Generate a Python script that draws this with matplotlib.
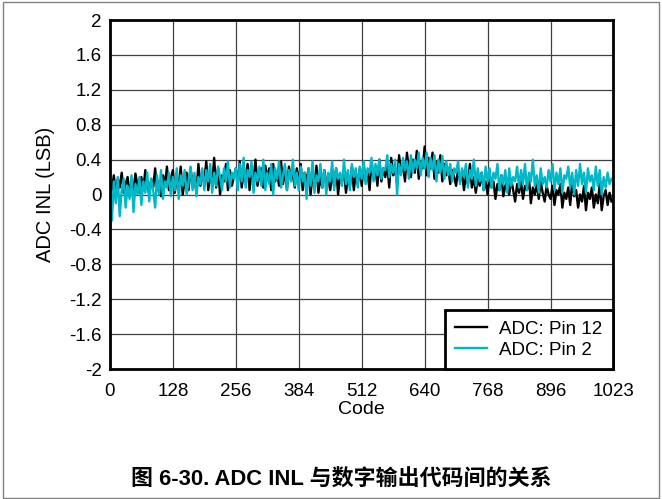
import numpy as np
import matplotlib
matplotlib.use("Agg")
import matplotlib.pyplot as plt
from matplotlib.patches import Rectangle

plt.rcParams['font.family'] = ['Liberation Sans', 'Noto Sans CJK SC']

# INL, one point every 4 codes
pin12 = [0.15, 0.05, 0.22, 0.00, 0.18, 0.08, 0.25, 0.02, 0.12, 0.20, 0.00, 0.15, 0.05, 0.24, 0.10, 0.02,
         0.20, 0.05, 0.28, 0.12, 0.00, 0.18, 0.08, 0.30, 0.05, 0.15, -0.02, 0.22, 0.10, 0.32, 0.05, 0.18,
         0.28, 0.02, 0.20, 0.10, 0.32, 0.00, 0.15, 0.25, 0.05, 0.30, 0.12, 0.20, 0.02, 0.35, 0.10, 0.22,
         0.15, 0.38, 0.05, 0.25, 0.12, 0.42, 0.08, 0.30, 0.00, 0.22, 0.15, 0.35, 0.05, 0.28, 0.10, 0.20,
         0.30, 0.12, 0.38, 0.08, 0.25, 0.18, 0.35, 0.05, 0.28, 0.15, 0.40, 0.10, 0.22, 0.30, 0.08, 0.33,
         0.18, 0.30, 0.05, 0.35, 0.15, 0.25, 0.10, 0.38, 0.12, 0.28, 0.05, 0.32, 0.18, 0.22, 0.08, 0.30,
         0.12, 0.35, 0.05, 0.25, 0.15, 0.30, 0.00, 0.22, 0.10, 0.33, 0.02, 0.20, 0.08, 0.28, 0.12, 0.18,
         0.05, 0.25, 0.10, 0.30, 0.00, 0.22, 0.15, 0.28, 0.02, 0.20, 0.10, 0.32, 0.05, 0.25, 0.12, 0.30,
         0.10, 0.35, 0.15, 0.25, 0.05, 0.38, 0.18, 0.28, 0.10, 0.40, 0.15, 0.30, 0.20, 0.35, 0.08, 0.42,
         0.22, 0.30, 0.12, 0.45, 0.25, 0.35, 0.15, 0.48, 0.28, 0.20, 0.40, 0.25, 0.50, 0.18, 0.38, 0.30,
         0.55, 0.22, 0.42, 0.30, 0.48, 0.18, 0.38, 0.25, 0.45, 0.15, 0.35, 0.22, 0.30, 0.12, 0.28, 0.20,
         0.10, 0.30, 0.15, 0.25, 0.05, 0.22, 0.12, 0.35, 0.08, 0.20, 0.02, 0.18, 0.10, 0.25, 0.05, 0.15,
         0.00, 0.20, 0.08, 0.15, -0.05, 0.12, 0.05, 0.22, -0.02, 0.10, 0.15, 0.00, 0.18, 0.05, -0.08, 0.12,
         0.02, 0.15, -0.05, 0.10, 0.05, 0.20, -0.10, 0.08, 0.00, 0.12, -0.05, 0.15, 0.02, -0.08, 0.10, 0.00,
         -0.05, 0.10, -0.12, 0.05, 0.00, 0.12, -0.15, 0.02, -0.05, 0.08, -0.12, 0.15, -0.02, 0.05, -0.15, 0.00,
         -0.08, 0.10, -0.18, 0.02, -0.05, 0.08, -0.15, 0.00, -0.10, 0.12, -0.18, -0.02, 0.05, -0.12, 0.02, -0.08]

pin2 = [0.10, -0.30, 0.15, -0.10, 0.20, -0.25, 0.05, 0.18, -0.15, 0.10, -0.05, 0.22, -0.20, 0.12, 0.00, 0.20,
        -0.12, 0.15, 0.02, 0.25, -0.08, 0.18, 0.05, -0.15, 0.22, 0.00, 0.28, -0.05, 0.15, 0.08, 0.25, -0.02,
        0.20, 0.05, 0.30, -0.05, 0.22, 0.10, 0.28, 0.00, 0.15, 0.32, 0.05, 0.25, -0.02, 0.20, 0.12, 0.30,
        0.05, 0.28, 0.15, 0.35, 0.02, 0.25, 0.10, 0.32, 0.20, 0.05, 0.30, 0.15, 0.38, 0.08, 0.25, 0.18,
        0.30, 0.05, 0.35, 0.15, 0.42, 0.08, 0.28, 0.20, 0.38, 0.02, 0.25, 0.15, 0.32, 0.10, 0.40, 0.05,
        0.25, 0.12, 0.35, 0.00, 0.30, 0.18, 0.38, 0.08, 0.22, 0.35, 0.05, 0.28, 0.15, 0.40, 0.10, 0.25,
        0.05, 0.32, 0.15, 0.25, -0.05, 0.30, 0.10, 0.38, 0.02, 0.22, 0.15, 0.35, 0.08, 0.28, 0.00, 0.25,
        0.15, 0.38, 0.05, 0.30, 0.18, 0.25, 0.10, 0.40, 0.12, 0.28, 0.05, 0.35, 0.20, 0.30, 0.08, 0.32,
        0.18, 0.38, 0.12, 0.30, 0.25, 0.42, 0.15, 0.35, 0.22, 0.40, 0.18, 0.30, 0.28, 0.45, 0.20, 0.35,
        0.25, 0.40, 0.00, 0.35, 0.22, 0.42, 0.28, 0.38, 0.18, 0.45, 0.25, 0.40, 0.30, 0.48, 0.22, 0.42,
        0.30, 0.48, 0.20, 0.42, 0.28, 0.45, 0.15, 0.40, 0.25, 0.44, 0.18, 0.38, 0.22, 0.35, 0.15, 0.30,
        0.25, 0.38, 0.12, 0.30, 0.20, 0.35, 0.08, 0.28, 0.18, 0.40, 0.10, 0.30, 0.15, 0.25, 0.05, 0.32,
        0.15, 0.30, 0.08, 0.25, 0.18, 0.35, 0.05, 0.22, 0.12, 0.28, 0.02, 0.30, 0.10, 0.20, 0.15, 0.32,
        0.08, 0.28, 0.12, 0.35, 0.05, 0.25, 0.15, 0.40, 0.10, 0.22, 0.02, 0.30, 0.12, 0.20, 0.08, 0.28,
        0.15, 0.35, 0.05, 0.25, 0.12, 0.30, 0.02, 0.22, 0.18, 0.32, 0.08, 0.25, 0.00, 0.28, 0.10, 0.35,
        0.12, 0.25, 0.02, 0.30, 0.15, 0.22, 0.05, 0.32, 0.10, 0.28, 0.00, 0.20, 0.08, 0.25, 0.12, 0.18]

codes12 = np.arange(0, 4 * len(pin12), 4)
codes2 = np.arange(0, 4 * len(pin2), 4)

xticks = [0, 128, 256, 384, 512, 640, 768, 896, 1023]
yticks = [2, 1.6, 1.2, 0.8, 0.4, 0, -0.4, -0.8, -1.2, -1.6, -2]
ylabels = ['2', '1.6', '1.2', '0.8', '0.4', '0', '-0.4', '-0.8', '-1.2', '-1.6', '-2']

fig = plt.figure(figsize=(6.62, 4.99), dpi=100)
ax = fig.add_axes([0.166, 0.2605, 0.760, 0.6994])

ax.plot(codes12, pin12, color='black', lw=1.7, label='ADC: Pin 12')
ax.plot(codes2, pin2, color='#00B8C8', lw=1.7, label='ADC: Pin 2')

ax.set_xlim(0, 1023)
ax.set_ylim(-2, 2)
ax.set_xticks(xticks)
ax.set_yticks(yticks)
ax.set_yticklabels(ylabels)
ax.tick_params(length=0, labelsize=13.5, pad=6)
ax.tick_params(axis='x', pad=10)
ax.grid(True, color='#404040', lw=0.9)
ax.set_axisbelow(True)
for s in ax.spines.values():
    s.set_linewidth(2)

ax.set_xlabel('Code', fontsize=14, labelpad=1)
ax.set_ylabel('ADC INL (LSB)', fontsize=14.5, labelpad=10)

leg = ax.legend(loc='lower right', bbox_to_anchor=(1, 0), borderaxespad=0,
                fontsize=13.5, fancybox=False, framealpha=1, handlelength=1.7,
                handletextpad=0.65, labelspacing=0.2, borderpad=0.55)
leg.get_frame().set_edgecolor('black')
leg.get_frame().set_linewidth(2)

fig.text(0.515, 0.038, '图 6-30. ADC INL 与数字输出代码间的关系', ha='center', va='center',
         fontsize=15.8, fontweight='bold')

fig.patches.append(Rectangle((0.005, 0.003), 0.99, 0.993, transform=fig.transFigure,
                             fill=False, edgecolor='#808080', lw=1))

fig.savefig('out.png', dpi=100)
